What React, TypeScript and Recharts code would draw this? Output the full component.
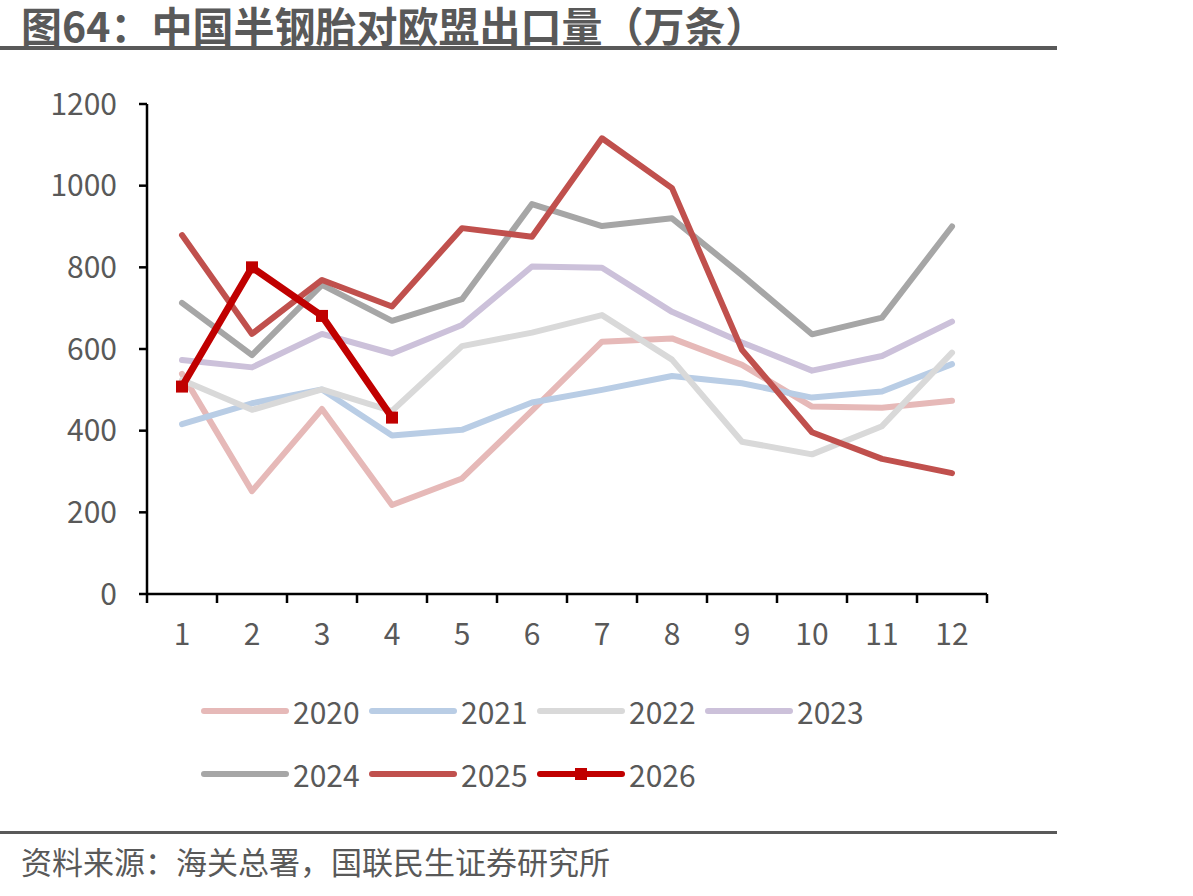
import { LineChart, Line, XAxis, YAxis } from 'recharts';

const months = [1, 2, 3, 4, 5, 6, 7, 8, 9, 10, 11, 12];
const y2020 = [539, 252, 453, 218, 283, 449, 618, 626, 561, 459, 456, 473];
const y2021 = [416, 467, 501, 388, 402, 469, 500, 534, 516, 481, 496, 563];
const y2022 = [524, 451, 501, 448, 607, 640, 683, 574, 373, 342, 411, 591];
const y2023 = [573, 555, 637, 589, 659, 802, 799, 691, 616, 547, 583, 667];
const y2024 = [713, 585, 757, 669, 722, 955, 901, 920, 781, 636, 677, 900];
const y2025 = [879, 637, 769, 704, 896, 875, 1116, 994, 598, 396, 331, 296];
const y2026 = [508, 800, 681, 432];

const yTicks = [0, 200, 400, 600, 800, 1000, 1200];
const edgeTicks = [0.5, 1.5, 2.5, 3.5, 4.5, 5.5, 6.5, 7.5, 8.5, 9.5, 10.5, 11.5, 12.5];

const series = [
  { key: 's2020', name: '2020', values: y2020, color: '#E6B9B8' },
  { key: 's2021', name: '2021', values: y2021, color: '#B9CDE5' },
  { key: 's2022', name: '2022', values: y2022, color: '#D9D9D9' },
  { key: 's2023', name: '2023', values: y2023, color: '#CCC1DA' },
  { key: 's2024', name: '2024', values: y2024, color: '#A6A6A6' },
  { key: 's2025', name: '2025', values: y2025, color: '#C0504D' },
  { key: 's2026', name: '2026', values: y2026, color: '#C00000', marker: true },
];

const data = months.map((m, i) => {
  const row: Record<string, number | undefined> = { m };
  series.forEach((s) => {
    row[s.key] = s.values[i];
  });
  return row;
});

const textColor = '#595959';
const font = '"Noto Sans CJK SC", "Noto Sans", sans-serif';

const SquareDot = (props: any) => {
  const { cx, cy } = props;
  if (cx == null || cy == null) return null;
  return <rect x={cx - 6} y={cy - 6} width={12} height={12} fill="#C00000" />;
};

const Legend = () => (
  <div style={{ position: 'absolute', left: 197, top: 679, width: 700, display: 'flex', flexWrap: 'wrap' }}>
    {series.map((s) => (
      <div key={s.key} style={{ width: 168, height: 63, display: 'flex', alignItems: 'center' }}>
        <svg width={96} height={20}>
          <line x1={7} y1={10} x2={89} y2={10} stroke={s.color} strokeWidth={6} strokeLinecap="round" />
          {s.marker && <rect x={42} y={4} width={12} height={12} fill={s.color} />}
        </svg>
        <span style={{ fontSize: 30, color: textColor, fontFamily: font }}>{s.name}</span>
      </div>
    ))}
  </div>
);

export default function App() {
  return (
    <div style={{ position: 'absolute', left: 0, top: 0, width: 1193, height: 896, background: '#fff', fontFamily: font }}>
      <div style={{ position: 'absolute', left: 0, top: 0 }}>
        <LineChart width={1193} height={896} data={data} margin={{ top: 104, right: 206, bottom: 252, left: 0 }}>
          <XAxis
            dataKey="m"
            type="number"
            domain={[0.5, 12.5]}
            ticks={edgeTicks}
            interval={0}
            height={10}
            tick={() => <g />}
            tickSize={9}
            axisLine={{ stroke: '#000', strokeWidth: 2.5 }}
            tickLine={{ stroke: '#000', strokeWidth: 2.5 }}
          />
          <XAxis
            xAxisId="lbl"
            dataKey="m"
            type="number"
            domain={[0.5, 12.5]}
            ticks={months}
            interval={0}
            height={40}
            axisLine={false}
            tickLine={false}
            tickSize={0}
            tickMargin={20}
            tick={{ fill: textColor, fontSize: 30, fontFamily: font }}
          />
          <YAxis
            width={147}
            domain={[0, 1200]}
            ticks={yTicks}
            interval={0}
            tickSize={8}
            tickMargin={22}
            axisLine={{ stroke: '#000', strokeWidth: 2.5 }}
            tickLine={{ stroke: '#000', strokeWidth: 2.5 }}
            tick={{ fill: textColor, fontSize: 30, fontFamily: font }}
          />
          {series.map((s) => (
            <Line
              key={s.key}
              dataKey={s.key}
              name={s.name}
              stroke={s.color}
              strokeWidth={s.marker ? 7 : 6}
              strokeLinejoin="round"
              strokeLinecap="round"
              dot={s.marker ? <SquareDot /> : false}
              activeDot={false}
              isAnimationActive={false}
              connectNulls={false}
              type="linear"
            />
          ))}
        </LineChart>
      </div>

      {/* title sits above the chart layer */}
      <div style={{ position: 'absolute', left: 21, top: 2, fontSize: 41, fontWeight: 700, color: textColor, lineHeight: '44px', whiteSpace: 'nowrap' }}>
        图64：中国半钢胎对欧盟出口量（万条）
      </div>
      <div style={{ position: 'absolute', left: 0, top: 46, width: 1057, height: 4, background: textColor }} />

      <Legend />

      <div style={{ position: 'absolute', left: 0, top: 831, width: 1057, height: 3, background: textColor }} />
      <div style={{ position: 'absolute', left: 21, top: 841, fontSize: 31, color: textColor, lineHeight: '40px', whiteSpace: 'nowrap' }}>
        资料来源：海关总署，国联民生证券研究所
      </div>
    </div>
  );
}
